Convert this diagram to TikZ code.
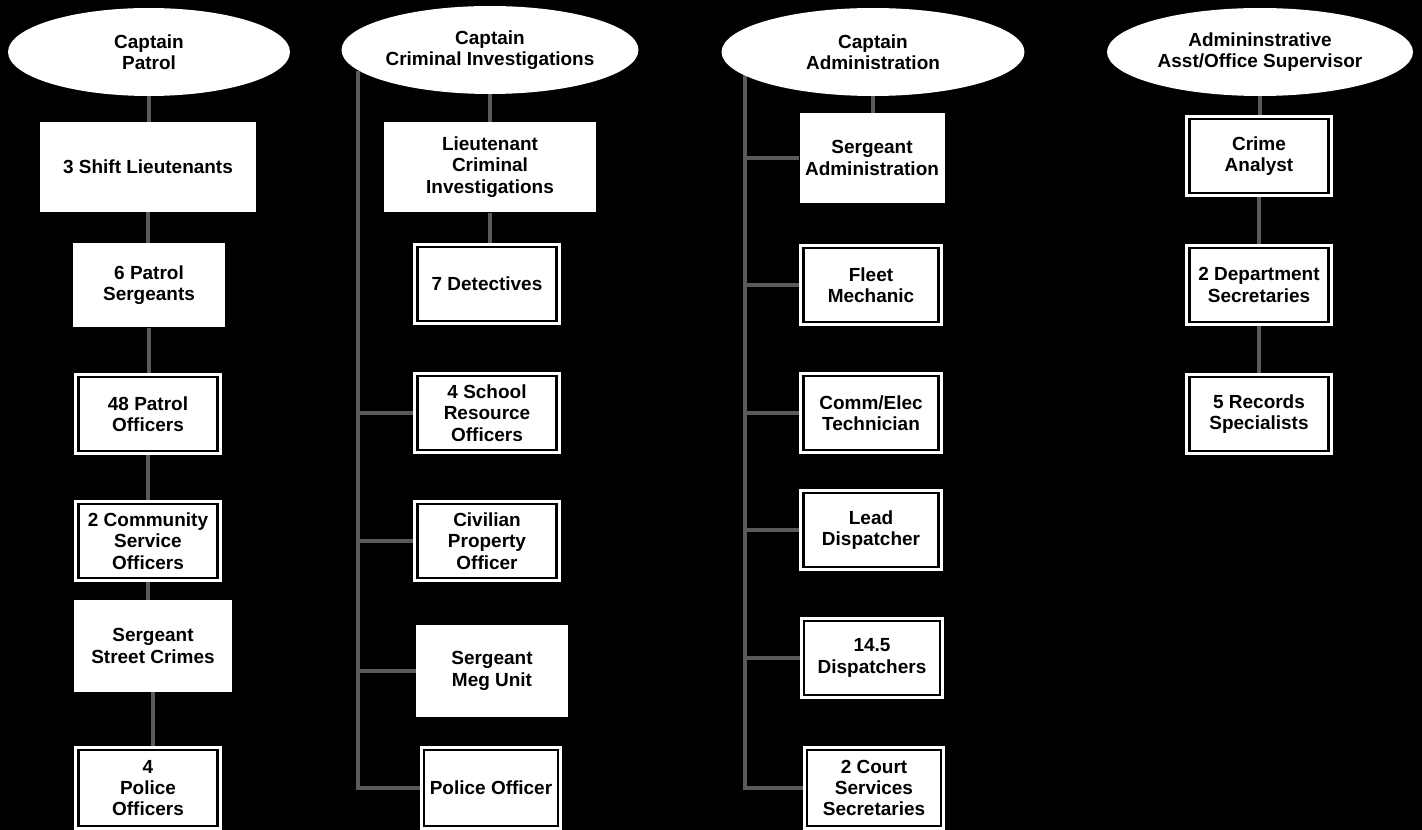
\documentclass[tikz,border=0pt]{standalone}
\usepackage{fontspec}
\setmainfont{Liberation Sans}
\usepackage{xcolor}
\usetikzlibrary{shapes.geometric,backgrounds}
\definecolor{ChartLine}{HTML}{5A5A5A}

\tikzset{
  chief/.style={ellipse,fill=white,inner sep=0pt,minimum height=1.76cm,
                align=center,font=\bfseries\fontsize{10.8}{12.2}\selectfont},
  unit/.style={rectangle,fill=white,inner sep=2pt,align=center,
               font=\bfseries\fontsize{10.8}{12.2}\selectfont},
  framed/.style={unit,draw=black,line width=1.2pt,
                 preaction={draw=white,line width=5pt},
                 minimum width=2.78cm,minimum height=1.48cm},
  link/.style={draw=ChartLine,line width=2pt}
}

\begin{document}
\begin{tikzpicture}[x=0.02cm,y=-0.02cm]
  \useasboundingbox (0,0) rectangle (1422,830);

  % division heads
  \node[chief,minimum width=5.64cm] (pHead) at (149,52) {Captain\\Patrol};
  \node[chief,minimum width=5.94cm] (cHead) at (490,50) {Captain\\Criminal Investigations};
  \node[chief,minimum width=6.06cm] (aHead) at (873,52) {Captain\\Administration};
  \node[chief,minimum width=6.12cm] (sHead) at (1260,52) {Admininstrative\\Asst/Office Supervisor};

  % patrol
  \node[unit,minimum width=4.32cm,minimum height=1.8cm] (pShift) at (148,167) {3 Shift Lieutenants};
  \node[unit,minimum width=3.04cm,minimum height=1.7cm] (pSgt) at (149,285) {6 Patrol\\Sergeants};
  \node[framed] (pOff) at (148,414) {48 Patrol\\Officers};
  \node[framed] (pCso) at (148,541) {2 Community\\Service\\Officers};
  \node[unit,minimum width=3.16cm,minimum height=1.84cm] (pStreet) at (153,646) {Sergeant\\Street Crimes};
  \node[framed,minimum height=1.52cm] (pPol) at (148,788) {4\\Police\\Officers};

  % criminal investigations
  \node[unit,minimum width=4.26cm,minimum height=1.82cm] (cLt) at (490,167) {Lieutenant\\Criminal\\Investigations};
  \node[framed] (cDet) at (487,284) {7 Detectives};
  \node[framed] (cSro) at (487,413) {4 School\\Resource\\Officers};
  \node[framed] (cCiv) at (487,541) {Civilian\\Property\\Officer};
  \node[unit,minimum width=3.04cm,minimum height=1.84cm] (cMeg) at (492,671) {Sergeant\\Meg Unit};
  \node[framed,minimum width=2.68cm,minimum height=1.52cm] (cPol) at (491,788) {Police Officer};

  % administration
  \node[unit,minimum width=2.9cm,minimum height=1.82cm] (aSgt) at (872,158) {Sergeant\\Administration};
  \node[framed,minimum width=2.7cm] (aFleet) at (871,285) {Fleet\\Mechanic};
  \node[framed,minimum width=2.7cm] (aComm) at (871,413) {Comm/Elec\\Technician};
  \node[framed,minimum width=2.7cm] (aLead) at (871,530) {Lead\\Dispatcher};
  \node[framed,minimum width=2.72cm] (aDisp) at (872,658) {14.5\\Dispatchers};
  \node[framed,minimum width=2.68cm,minimum height=1.52cm] (aCourt) at (874,788) {2 Court\\Services\\Secretaries};

  % office support
  \node[framed] (sCrime) at (1259,156) {Crime\\Analyst};
  \node[framed] (sSec) at (1259,285) {2 Department\\Secretaries};
  \node[framed] (sRec) at (1259,414) {5 Records\\Specialists};

  \coordinate (cTrunk) at (358,71);
  \coordinate (aTrunk) at (745,75);

  \begin{scope}[on background layer]
    \fill[black] (0,0) rectangle (1422,830);
    \foreach \a/\b in {pHead/pShift,pShift/pSgt,pSgt/pOff,pOff/pCso,pCso/pStreet,pStreet/pPol,
                       cHead/cLt,cLt/cDet,aHead/aSgt,sHead/sCrime,sCrime/sSec,sSec/sRec}
      \draw[link] (\a) -- (\a |- \b);
    \foreach \b in {cSro,cCiv,cMeg,cPol}
      \draw[link] (cTrunk) |- (\b.west);
    \foreach \b in {aSgt,aFleet,aComm,aLead,aDisp,aCourt}
      \draw[link] (aTrunk) |- (\b.west);
  \end{scope}
\end{tikzpicture}
\end{document}
